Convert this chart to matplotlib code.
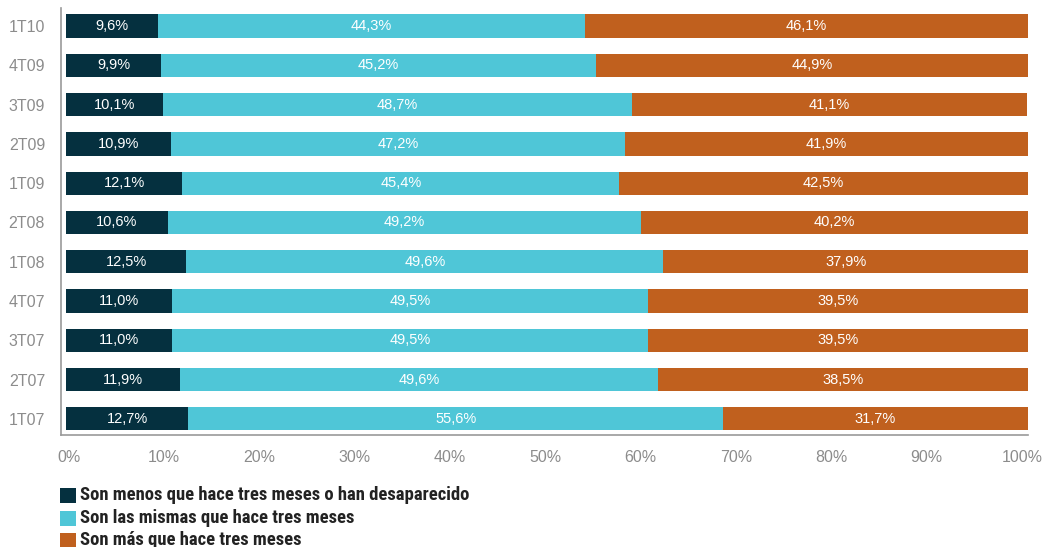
import matplotlib
matplotlib.use("Agg")
import matplotlib.pyplot as plt
from matplotlib.patches import Rectangle
from matplotlib.transforms import ScaledTranslation
from matplotlib import font_manager
import numpy as np

plt.rcParams['font.family'] = ['Liberation Sans', 'DejaVu Sans']

# quarters, bottom to top
periodos = ['1T07', '2T07', '3T07', '4T07', '1T08', '2T08', '1T09', '2T09', '3T09', '4T09', '1T10']
menos = [12.7, 11.9, 11.0, 11.0, 12.5, 10.6, 12.1, 10.9, 10.1, 9.9, 9.6]
mismas = [55.6, 49.6, 49.5, 49.5, 49.6, 49.2, 45.4, 47.2, 48.7, 45.2, 44.3]
mas = [31.7, 38.5, 39.5, 39.5, 37.9, 40.2, 42.5, 41.9, 41.1, 44.9, 46.1]

etiquetas = ['Son menos que hace tres meses o han desaparecido',
             'Son las mismas que hace tres meses',
             'Son más que hace tres meses']
colores = ['#05303f', '#4fc6d7', '#c0601e']

W, H = 1042, 547
fig = plt.figure(figsize=(W / 100, H / 100), dpi=100)
ax = fig.add_axes([61 / W, 1 - 435 / H, 967 / W, 427 / H])

y = np.arange(len(periodos))
left = np.zeros(len(periodos))
for serie, color in zip([menos, mismas, mas], colores):
    vals = np.array(serie)
    ax.barh(y, vals, left=left, height=0.59, color=color, edgecolor='none')
    for yi, l, v in zip(y, left, vals):
        ax.text(l + v / 2, yi, ('%.1f%%' % v).replace('.', ','), ha='center', va='center',
                color='white', fontsize=10.5)
    left += vals

ax.set_xlim(-0.52, 100)
ax.set_ylim(-0.41, len(periodos) - 1 + 0.46)
ax.set_yticks(y)
ax.set_yticklabels(periodos)
xt = np.arange(0, 101, 10)
ax.set_xticks(xt)
ax.set_xticklabels(['%d%%' % v for v in xt])
ax.tick_params(axis='both', length=0, colors='#8c8c8c', labelsize=11.5)
ax.tick_params(axis='x', pad=10.5)
ax.tick_params(axis='y', pad=11.5)
# percent labels sit on a slightly tighter scale than the bars
for lab, v in zip(ax.get_xticklabels(), xt):
    dx = (3 - 0.09 * v) / 100
    lab.set_transform(lab.get_transform() + ScaledTranslation(dx, 0, fig.dpi_scale_trans))
for s in ['top', 'right']:
    ax.spines[s].set_visible(False)
for s in ['left', 'bottom']:
    ax.spines[s].set_color('#999999')
    ax.spines[s].set_linewidth(1.2)

# upright bold condensed face for the legend, if one is installed
candidatas = {}
for f in font_manager.fontManager.ttflist:
    nombre = f.name.lower()
    if f.style != 'normal' or f.weight not in (700, 'bold'):
        continue
    if 'narrow' in nombre or 'condensed' in nombre or f.stretch == 'condensed':
        candidatas[nombre] = f.fname
fuente = None
for pref in ['liberation sans narrow', 'roboto condensed', 'dejavu sans condensed']:
    if pref in candidatas:
        fuente = candidatas[pref]
        break
if fuente is None and candidatas:
    fuente = sorted(candidatas.items())[0][1]
prop = font_manager.FontProperties(fname=fuente, size=13) if fuente else \
    font_manager.FontProperties(family='Liberation Sans', weight='bold', size=13)

filas = [495, 518, 540]
textos = []
for etq, color, yc in zip(etiquetas, colores, filas):
    fig.add_artist(Rectangle((60 / W, 1 - (yc + 7.5) / H), 16 / W, 15 / H,
                             transform=fig.transFigure, facecolor=color, edgecolor='none'))
    textos.append(fig.text(80 / W, 1 - yc / H, etq, ha='left', va='center',
                           color='#222222', fontproperties=prop))

# fit the legend text to its width
fig.canvas.draw()
ancho = textos[0].get_window_extent().width
for t in textos:
    t.set_fontsize(13 * 389 / ancho)

fig.savefig('out.png', dpi=100)
